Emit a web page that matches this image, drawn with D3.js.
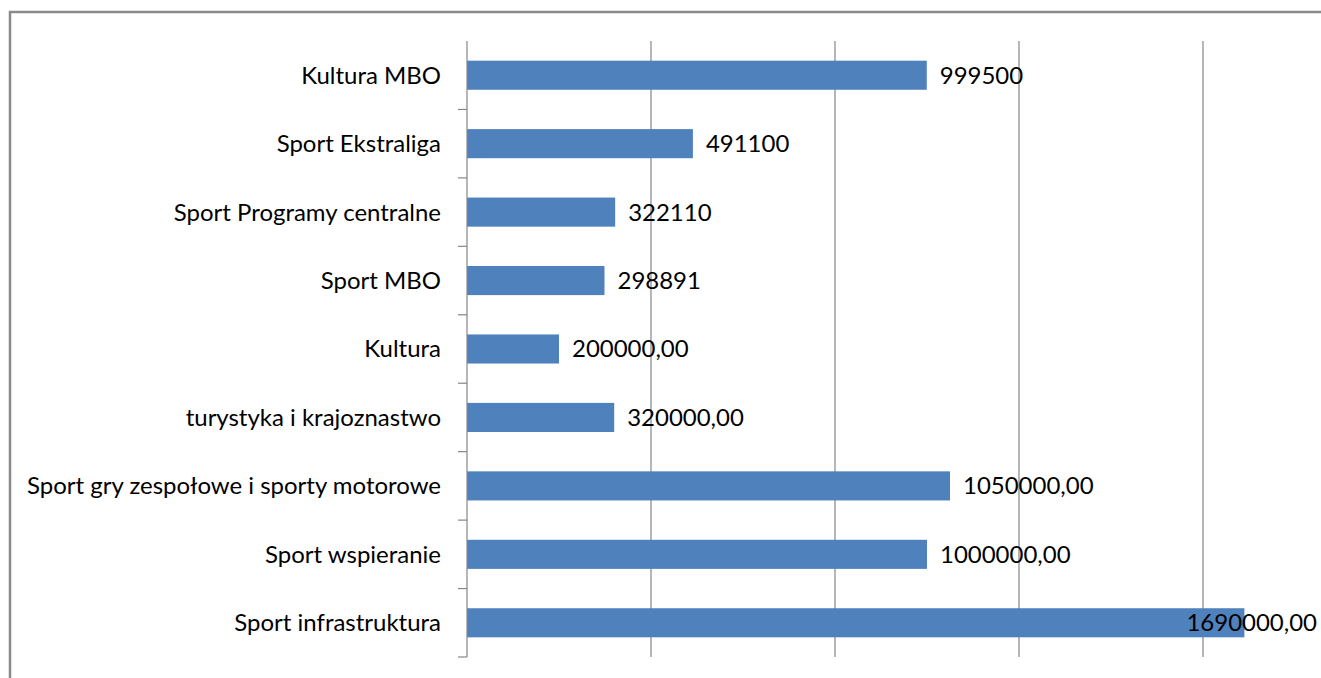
<!DOCTYPE html>
<meta charset="utf-8">
<script src="https://d3js.org/d3.v7.min.js"></script>
<style>
  body { margin: 0; background: #fff; }
  text { font-family: Lato, "Open Sans", sans-serif; fill: #000; }
</style>
<div id="chart"></div>
<script>

// categories (top to bottom) and their values
const categories = ["Kultura MBO", "Sport Ekstraliga", "Sport Programy centralne", "Sport MBO", "Kultura",
    "turystyka i krajoznastwo", "Sport gry zespołowe i sporty motorowe", "Sport wspieranie", "Sport infrastruktura"];
const values = [999500, 491100, 322110, 298891, 200000, 320000, 1050000, 1000000, 1690000];
const valueLabels = ["999500", "491100", "322110", "298891", "200000,00", "320000,00", "1050000,00", "1000000,00", "1690000,00"];
const gridTicks = [0, 400000, 800000, 1200000, 1600000, 2000000];

const W = 1321, H = 678;
const margin = { top: 41, left: 467, bottom: 21 };
const plotW = 920; // runs past the right edge, like the cropped original
const plotH = H - margin.top - margin.bottom;

const svg = d3.select("#chart").append("svg")
    .attr("width", W).attr("height", H);

// outer chart border
svg.append("rect")
    .attr("x", 10).attr("y", 12)
    .attr("width", W + 20).attr("height", H + 20)
    .attr("fill", "none").attr("stroke", "#8a8a8a").attr("stroke-width", 2.5);

const g = svg.append("g").attr("transform", `translate(${margin.left},${margin.top})`);

const x = d3.scaleLinear().domain([0, 2000000]).range([0, plotW]);
const y = d3.scaleBand().domain(categories).range([0, plotH]).paddingInner(0.575).paddingOuter(0.2875);

// vertical gridlines
g.selectAll(".grid").data(gridTicks.slice(1)).join("line")
    .attr("x1", d => x(d)).attr("x2", d => x(d))
    .attr("y1", 0).attr("y2", plotH)
    .attr("stroke", "#868686").attr("stroke-width", 1.2);

// bars
g.selectAll(".bar").data(values).join("rect")
    .attr("x", 0)
    .attr("y", (d, i) => y(categories[i]))
    .attr("width", d => x(d))
    .attr("height", y.bandwidth())
    .attr("fill", "#4f81bd");

// category axis line + ticks at band boundaries
const step = plotH / categories.length;
g.append("line").attr("x1", 0).attr("x2", 0).attr("y1", 0).attr("y2", plotH)
    .attr("stroke", "#868686").attr("stroke-width", 1.2);
g.selectAll(".tick").data(d3.range(1, categories.length + 1)).join("line")
    .attr("x1", -9).attr("x2", 0)
    .attr("y1", d => d * step).attr("y2", d => d * step)
    .attr("stroke", "#868686").attr("stroke-width", 1.2);

// category labels
const catText = g.selectAll(".cat").data(categories).join("text")
    .attr("x", -26)
    .attr("y", d => y(d) + y.bandwidth() / 2)
    .attr("dy", "0.35em")
    .attr("text-anchor", "end")
    .style("font-size", "22px")
    .text(d => d);

// fit font size so the longest label spans like the original (~414px)
const longest = catText.filter((d, i) => i === 6).node().getComputedTextLength();
const fs = 22 * 414 / longest;
catText.style("font-size", fs + "px");

// value labels
g.selectAll(".val").data(values).join("text")
    .attr("y", (d, i) => y(categories[i]) + y.bandwidth() / 2)
    .attr("dy", "0.35em")
    .style("font-size", fs + "px")
    .text((d, i) => valueLabels[i])
    .each(function (d) {
        const t = d3.select(this);
        const w = this.getComputedTextLength();
        let px = x(d) + 13;
        if (margin.left + px + w > W - 4) px = W - 4 - margin.left - w;
        t.attr("x", px);
    });

</script>
